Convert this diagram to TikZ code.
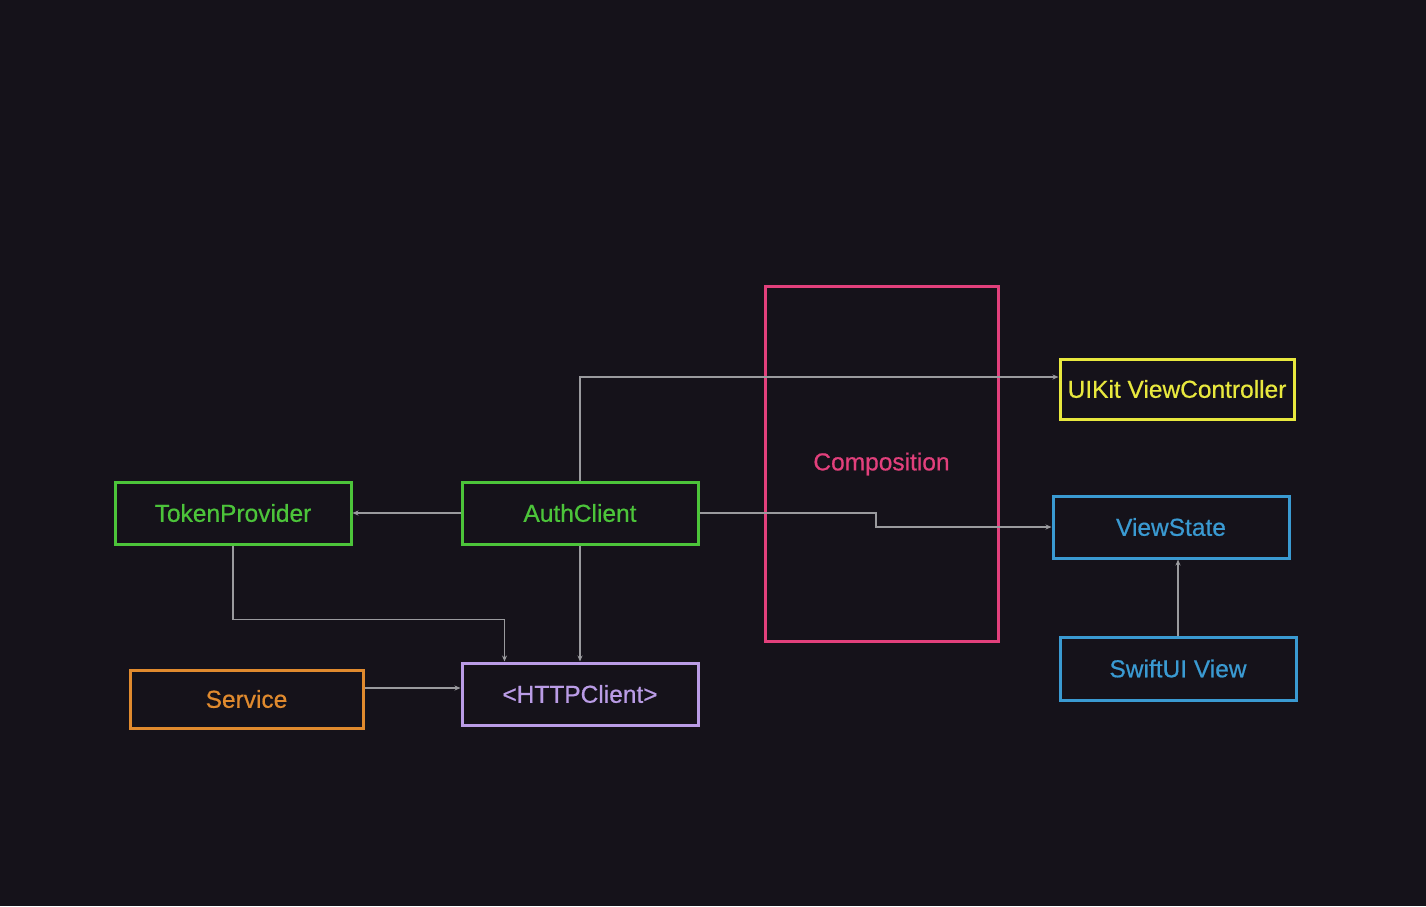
\documentclass[tikz,border=0pt]{standalone}
\usepackage{fontspec}
\setmainfont{Liberation Sans}[FakeBold=0.6]
\usetikzlibrary{arrows.meta,calc}
\definecolor{bg}{HTML}{15121A}
\definecolor{cgreen}{HTML}{4CC43A}
\definecolor{corange}{HTML}{E08A2E}
\definecolor{cpurple}{HTML}{BA9CE6}
\definecolor{cpink}{HTML}{E2407C}
\definecolor{cyellow}{HTML}{E8E83E}
\definecolor{cblue}{HTML}{3A9AD2}
\definecolor{cline}{HTML}{9A9A9E}
\tikzset{
  box/.style={draw=#1, text=#1, line width=3pt, inner sep=0pt, font=\fontsize{24.5}{27}\selectfont},
  conn/.style={draw=cline, line width=1.4pt, -{Stealth[length=6pt,width=5pt]}},
}
\begin{document}
\begin{tikzpicture}[x=1pt,y=-1pt]
\fill[bg] (0,0) rectangle (1426,906);
\useasboundingbox (0,0) rectangle (1426,906);

\node[box=cgreen, minimum width=236pt, minimum height=62pt] (tp) at (233,513) {TokenProvider};
\node[box=cgreen, minimum width=236pt, minimum height=62pt] (ac) at (580,513) {AuthClient};
\node[box=corange, minimum width=233pt, minimum height=58pt] (sv) at (246.5,699) {Service};
\node[box=cpurple, minimum width=236pt, minimum height=62pt] (hc) at (580,694) {<HTTPClient>};
\node[box=cpink, minimum width=233pt, minimum height=355pt] (cp) at (881.5,463.5) {};
\node[text=cpink, font=\fontsize{24.5}{27}\selectfont] (cpt) at (881.5,464) {Composition};
\node[box=cyellow, minimum width=234pt, minimum height=60pt] (ui) at (1177,389) {UIKit ViewController};
\node[box=cblue, minimum width=236pt, minimum height=62pt] (vs) at (1171,527) {ViewState};
\node[box=cblue, minimum width=236pt, minimum height=63pt] (sw) at (1178,668.5) {SwiftUI View};

\draw[conn] (ac.west) -- (tp.east);
\draw[conn] (tp.south) -- ++(0,74) -| ($(hc.north west)+(44,0)$);
\draw[conn] (ac.south) -- (hc.north);
\draw[conn] (sv.east |- 0,688) -- (hc.west |- 0,688);
\draw[conn] (ac.north) |- (ui.west |- 0,377);
\draw[conn] (ac.east) -- (876,513) -- (876,527) -- (vs.west);
\draw[conn] (sw.north) -- (sw.north |- vs.south);
\end{tikzpicture}
\end{document}
